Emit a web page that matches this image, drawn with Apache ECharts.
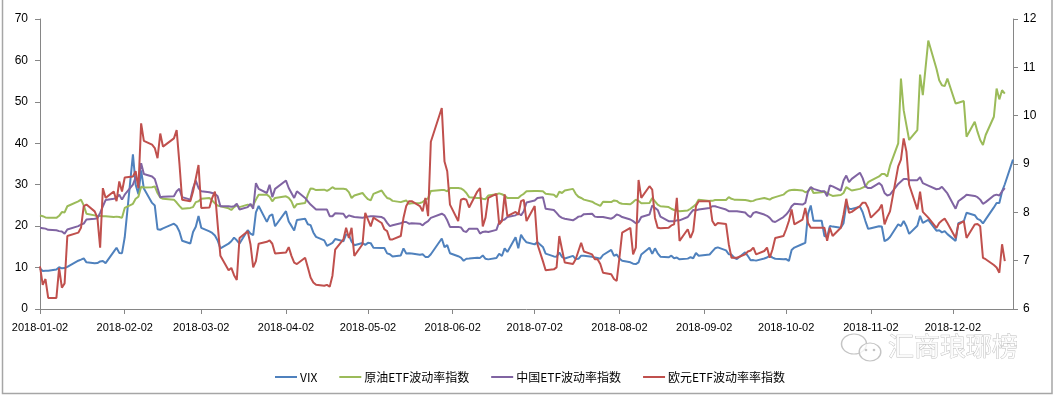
<!DOCTYPE html>
<html><head><meta charset="utf-8">
<script src="https://cdn.jsdelivr.net/npm/echarts@6/dist/echarts.min.js"></script>
<style>html,body{margin:0;padding:0;background:#fff;}#c{width:1054px;height:396px;}</style>
</head><body><div id="c"></div>
<script>
// ---- categories ----
const firstDay = '2018-01-02';
const lastDay = '2018-12-24';
const marketHolidays = ['2018-01-15','2018-02-19','2018-03-30','2018-05-28','2018-07-04','2018-09-03','2018-11-22','2018-12-05'];
const seriesNames = ['VIX','原油ETF波动率指数','中国ETF波动率指数','欧元ETF波动率率指数'];
const seriesColors = ['#4F81BD','#9BBB59','#8064A2','#C0504D'];
const leftTicks = [0,10,20,30,40,50,60,70];
const rightTicks = [6,7,8,9,10,11,12];

// ---- series values (one per trading day, in date order) ----
const vix = [
 9.77,9.15,9.22,9.22,9.52,10.08,9.82,9.88,10.16,11.66,11.91,12.22,11.27,11.03,11.10,11.47,11.58,11.08,13.84,14.79,13.54,
 13.47,17.31,37.32,29.98,27.73,33.46,29.06,25.61,24.97,19.26,19.13,19.46,20.60,20.02,18.72,16.49,15.80,18.59,19.85,
 22.47,19.59,18.73,18.36,17.76,16.54,14.64,15.78,16.35,17.23,16.59,15.80,19.02,18.20,17.86,23.34,24.87,21.03,22.50,22.87,19.97,
 23.62,21.10,20.06,18.94,21.49,21.77,20.47,20.24,18.49,17.41,16.56,15.25,15.60,15.96,16.88,16.34,18.02,17.84,16.24,15.41,15.93,
 15.49,15.97,15.90,14.77,14.75,14.71,13.42,13.23,12.65,12.93,14.63,13.42,13.43,13.42,13.08,13.22,12.58,12.53,13.22,17.02,14.94,15.43,
 13.46,12.74,12.40,11.64,12.13,12.18,12.35,12.34,12.94,12.12,11.98,12.31,13.35,12.79,14.64,13.77,17.33,14.64,17.91,16.85,16.09,
 15.60,16.14,14.97,13.37,12.69,12.64,13.63,12.58,12.18,12.83,12.06,12.10,12.87,12.86,12.62,12.41,12.29,12.14,13.03,14.26,12.83,
 13.15,12.19,11.64,11.27,10.93,10.85,11.27,13.16,14.78,13.31,14.64,13.45,12.64,12.49,12.86,12.25,12.41,11.99,12.16,12.50,12.25,13.53,12.86,
 13.16,13.91,14.65,14.88,14.16,13.22,13.14,12.37,12.07,13.68,12.79,11.75,11.80,11.68,12.20,12.42,12.89,12.41,12.12,
 12.00,12.05,11.61,14.22,14.82,15.69,15.95,22.96,24.98,21.31,21.30,17.62,17.40,20.06,19.89,19.64,20.71,25.23,24.22,24.16,24.70,23.35,21.23,
 19.34,19.51,19.96,19.91,16.36,16.72,17.36,20.45,20.02,21.25,19.98,18.14,20.10,22.48,20.80,21.52,18.90,19.02,18.49,18.79,18.07,
 16.44,20.74,21.19,23.23,22.64,21.76,21.46,20.65,21.63,24.52,25.58,25.58,28.38,30.11,36.07
];
const oilEtfVol = [
 22.6,22.4,22.1,22.0,22.0,22.5,23.4,23.3,24.8,26.0,26.4,25.0,23.0,22.6,22.4,22.5,22.4,22.4,22.2,22.3,
 22.2,22.0,24.4,25.4,26.6,27.1,29.5,29.3,29.4,29.6,28.0,26.9,26.6,26.4,25.7,24.9,24.2,24.4,24.6,
 25.8,26.0,26.6,26.8,26.2,25.5,25.0,24.8,24.3,23.9,24.6,25.0,24.6,25.2,25.0,25.0,26.4,27.6,27.6,27.1,26.0,
 26.8,27.2,26.8,26.0,24.4,25.3,25.6,27.6,29.1,29.0,28.7,28.8,28.5,28.9,29.4,29.0,29.0,28.9,28.2,26.8,27.4,
 28.0,27.2,26.5,26.2,27.8,28.6,27.6,26.8,26.6,26.1,25.8,26.0,26.2,25.4,25.5,25.6,25.8,26.4,26.7,28.5,28.7,28.7,
 28.4,29.2,29.2,29.1,28.7,28.0,27.0,26.8,26.8,26.6,26.5,27.4,27.7,27.9,27.7,27.4,26.8,26.8,26.8,27.4,27.8,
 28.4,28.5,28.5,28.4,27.8,27.6,27.0,28.3,28.0,28.6,29.0,27.8,27.1,26.8,26.4,25.9,25.5,25.2,24.9,25.9,25.8,
 26.2,26.1,25.6,25.4,25.3,25.8,26.4,26.1,25.5,25.6,26.8,26.0,25.2,24.8,24.6,24.2,23.9,23.8,23.6,23.8,24.2,24.7,25.3,
 26.4,26.1,26.1,26.3,26.3,26.3,27.0,26.6,26.4,26.4,26.3,26.2,26.0,26.1,26.4,26.8,26.6,26.4,26.8,27.0,
 27.6,28.2,28.6,28.7,28.8,28.6,28.2,28.4,29.4,28.0,28.2,28.3,28.0,27.6,27.3,27.5,28.0,29.4,29.0,28.6,29.0,29.3,29.6,
 30.6,31.0,32.0,32.6,32.6,32.0,34.6,40.0,55.6,48.0,44.4,40.8,43.2,56.6,51.6,64.8,58.0,55.2,54.0,53.8,55.6,
 49.6,49.8,50.2,41.6,45.2,42.8,40.8,39.6,42.0,46.4,53.2,50.6,52.8,52.0
];
const chinaEtfVol = [
 19.6,19.5,19.4,19.1,19.0,18.8,18.7,18.2,19.2,20.0,20.4,20.6,21.6,21.8,21.9,23.2,24.8,26.3,26.6,26.8,
 27.6,26.4,27.6,30.0,31.8,30.8,35.2,32.6,32.0,31.4,29.2,27.0,27.1,27.2,28.4,29.0,27.0,26.4,29.2,
 31.0,29.2,28.4,28.2,28.0,27.8,27.2,24.8,24.8,24.7,24.8,25.4,24.0,24.6,25.4,24.2,30.4,29.0,28.0,30.0,27.0,
 29.0,31.0,29.2,28.0,26.8,28.4,26.8,26.0,25.2,24.6,24.0,24.0,24.0,22.4,22.4,23.1,23.0,22.0,22.6,22.4,22.2,
 22.0,22.2,22.3,22.4,22.4,22.2,21.8,20.8,20.0,20.2,20.7,21.0,21.0,20.6,20.7,20.6,20.2,20.8,21.2,22.0,23.0,22.6,
 21.4,19.8,19.8,19.7,18.8,18.6,19.4,19.4,18.2,18.6,18.7,18.6,19.1,21.0,21.4,21.6,22.2,22.6,23.2,22.6,23.6,
 25.7,26.2,26.8,27.0,24.2,23.9,23.2,22.4,22.0,21.8,21.4,21.8,22.3,22.4,22.9,23.0,22.3,22.2,22.2,22.2,21.8,
 22.2,22.8,22.6,22.2,21.6,21.2,20.7,21.0,22.2,22.8,25.0,24.4,23.9,22.3,21.2,21.2,21.2,21.4,21.4,22.2,23.1,23.9,23.8,
 24.0,24.4,24.8,24.8,24.6,24.0,23.6,23.6,23.6,23.6,23.3,22.6,22.2,23.2,23.4,22.8,22.5,22.0,21.2,21.0,
 22.2,22.8,23.6,24.8,25.4,25.2,25.6,28.4,29.4,29.0,28.4,28.4,27.2,29.8,29.6,28.6,31.0,32.2,30.6,31.4,32.9,31.6,29.6,
 29.2,29.2,30.4,29.8,28.0,27.4,27.6,30.2,30.8,31.4,31.4,31.1,31.1,31.8,30.4,29.8,28.9,29.0,29.5,28.7,27.9,
 24.2,26.0,27.0,27.6,27.3,27.0,26.4,25.4,25.8,27.4,27.6,27.4,28.4,29.2
];
const euroEtfVol = [
 6.88,6.50,6.62,6.23,6.23,6.85,6.44,6.53,7.51,7.58,7.68,8.13,8.16,8.02,7.89,7.27,8.50,8.30,8.43,8.23,
 8.64,8.43,8.72,8.74,8.85,8.50,9.84,9.48,9.40,9.33,9.12,9.63,9.36,9.53,9.70,9.02,8.26,8.23,8.43,
 8.70,8.98,8.09,8.10,8.30,8.43,7.75,7.10,6.80,6.85,6.70,6.60,7.47,7.61,7.34,6.86,6.99,7.35,7.39,7.42,7.35,
 7.15,7.17,7.28,7.10,6.96,6.93,7.06,6.86,6.65,6.55,6.50,6.48,6.50,6.46,6.69,7.23,7.44,7.68,7.47,7.68,7.10,
 7.34,7.99,7.85,7.71,7.89,7.78,7.65,7.61,7.44,7.44,7.51,7.89,8.13,8.23,8.23,8.13,8.02,8.30,7.92,9.46,10.16,9.05,
 8.85,8.16,7.82,8.26,8.28,8.26,8.10,8.43,8.50,7.71,7.89,8.30,8.38,7.75,7.82,8.37,7.92,8.01,7.95,8.23,8.26,
 7.82,8.13,7.34,6.99,6.80,6.82,6.86,7.51,7.23,6.96,6.93,7.03,7.20,7.37,7.19,7.13,7.03,7.03,6.93,6.75,6.72,
 6.62,6.58,7.06,7.58,7.68,7.13,7.27,8.67,8.30,8.54,8.47,7.89,7.68,7.67,7.68,7.73,7.75,8.30,7.41,7.65,7.47,7.61,8.13,
 8.23,8.23,7.82,7.73,7.78,7.76,7.34,7.06,7.06,7.06,7.13,7.19,7.21,7.27,7.13,7.20,7.27,7.06,7.23,7.47,
 7.51,7.65,7.82,8.06,7.75,7.85,8.09,7.78,7.68,7.68,7.68,7.68,7.41,7.68,7.51,7.68,7.95,8.28,7.99,8.01,8.13,8.20,8.20,
 8.09,7.89,8.06,8.16,7.75,7.90,8.02,8.95,9.09,9.53,9.26,8.57,8.06,8.43,8.01,7.89,7.68,7.78,7.83,7.87,7.78,
 7.47,7.75,7.82,7.47,7.75,7.76,7.71,7.06,7.03,6.91,6.86,6.75,7.34,6.99
];

// ---- build calendar & trading-day lists ----
function fmt(d){return d.toISOString().slice(0,10);}
const calendarDays = [], tradingDays = [];
for (let d = new Date(firstDay+'T00:00:00Z'); fmt(d) <= lastDay; d.setUTCDate(d.getUTCDate()+1)) {
  const s = fmt(d); calendarDays.push(s);
  const wd = d.getUTCDay();
  if (wd !== 0 && wd !== 6 && marketHolidays.indexOf(s) < 0) tradingDays.push(s);
}
function pairs(vals){ const out=[]; for(let i=0;i<vals.length && i<tradingDays.length;i++) out.push([tradingDays[i], vals[i]]); return out; }
const isMonthTick = (i, v) => v.slice(8) === '02';

const axisGray = '#868686';
const chart = echarts.init(document.getElementById('c'), null, {renderer:'canvas'});
const mkSeries = (idx, vals, yIdx) => ({
  name: seriesNames[idx], type:'line', yAxisIndex:yIdx, data:pairs(vals),
  showSymbol:false, symbol:'none', lineStyle:{width:2, color:seriesColors[idx]}, itemStyle:{color:seriesColors[idx]},
  emphasis:{disabled:true}, z: 2+idx
});
chart.setOption({
  animation:false,
  backgroundColor:'#fff',
  grid:{left:40, right:41, top:19, bottom:87},
  xAxis:{type:'category', data:calendarDays, boundaryGap:false,
    axisLine:{lineStyle:{color:axisGray, width:1}},
    axisTick:{show:true, interval:isMonthTick, length:5, lineStyle:{color:axisGray}},
    axisLabel:{interval:isMonthTick, color:'#000', fontSize:11, fontFamily:'Liberation Sans', margin:13}},
  yAxis:[
    {type:'value', min:leftTicks[0], max:leftTicks[leftTicks.length-1], interval:10, position:'left',
     axisLine:{show:true, lineStyle:{color:axisGray}}, axisTick:{show:true, length:5, lineStyle:{color:axisGray}},
     splitLine:{show:false}, axisLabel:{color:'#000', fontSize:12, fontFamily:'Liberation Sans', margin:12}},
    {type:'value', min:rightTicks[0], max:rightTicks[rightTicks.length-1], interval:1, position:'right',
     axisLine:{show:true, lineStyle:{color:axisGray}}, axisTick:{show:true, length:5, lineStyle:{color:axisGray}},
     splitLine:{show:false}, axisLabel:{color:'#000', fontSize:12, fontFamily:'Liberation Sans', margin:10}}
  ],
  legend:{left:270, top:366, itemGap:22, itemWidth:22, itemHeight:2, icon:'rect',
    textStyle:{color:'#000', fontSize:12, fontFamily:'Noto Sans CJK SC', padding:[0,0,0,-2]},
    data:seriesNames},
  series:[
    mkSeries(0, vix, 0),
    mkSeries(1, oilEtfVol, 0),
    mkSeries(2, chinaEtfVol, 0),
    mkSeries(3, euroEtfVol, 1)
  ],
  graphic:[
    {type:'rect', shape:{x:2.5, y:-5, width:1049.5, height:398.5}, style:{fill:'none', stroke:'#a6a6a6', lineWidth:1.5}, silent:true, z:100},
    {type:'circle', x:854, y:344, scaleX:1.25, shape:{cx:0, cy:0, r:10}, style:{fill:'rgba(255,255,255,0.75)', stroke:'#c4c4c4', lineWidth:1.2}, z:100},
    {type:'circle', x:870, y:352, scaleX:1.2, shape:{cx:0, cy:0, r:9}, style:{fill:'rgba(255,255,255,0.75)', stroke:'#c4c4c4', lineWidth:1.2}, z:101},
    {type:'circle', x:866, y:350, shape:{cx:0, cy:0, r:1.3}, style:{fill:'#c4c4c4'}, z:102},
    {type:'circle', x:874, y:350, shape:{cx:0, cy:0, r:1.3}, style:{fill:'#c4c4c4'}, z:102},
    {type:'text', x:888, y:333, style:{text:'汇商琅琊榜', font:'26px "Noto Sans CJK SC"', fill:'rgba(255,255,255,0.85)', stroke:'#bdbdbd', lineWidth:0.8}, z:101}
  ]
});
</script></body></html>
